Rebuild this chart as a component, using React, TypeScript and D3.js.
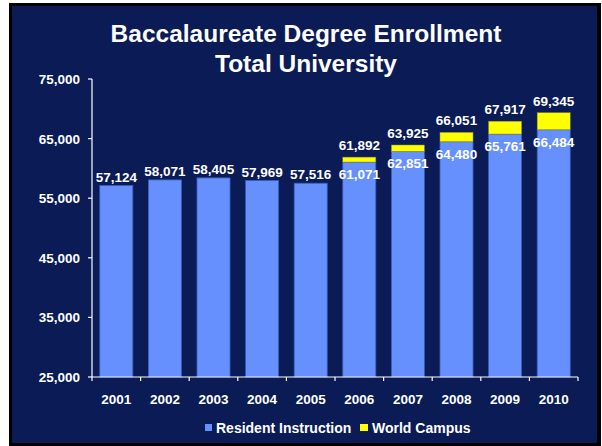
import React from "react";
import * as d3 from "d3";

const years = ["2001", "2002", "2003", "2004", "2005", "2006", "2007", "2008", "2009", "2010"];
const resident = [57124, 58071, 58405, 57969, 57516, 61071, 62851, 64480, 65761, 66484];
const world = [0, 0, 0, 0, 0, 821, 1074, 1571, 2156, 2861];
const totals = [57124, 58071, 58405, 57969, 57516, 61892, 63925, 66051, 67917, 69345];
const yTicks = [25000, 35000, 45000, 55000, 65000, 75000];
const titleLines = ["Baccalaureate Degree Enrollment", "Total University"];
const legendItems = ["Resident Instruction", "World Campus"];

const W = 602;
const H = 446;
const NAVY = "#0a1b56";
const BLUE = "#6690fd";
const YELLOW = "#ffff00";
const FONT = "'Liberation Sans', Arial, sans-serif";

export default function App() {
  const x = d3.scaleBand<string>().domain(years).range([92, 578]).paddingInner(0.32).paddingOuter(0.16);
  const y = d3.scaleLinear().domain([25000, 75000]).range([377, 79]);
  const fmt = d3.format(",");
  const step = x.step();
  const boundaries = d3.range(years.length + 1).map((i) => 92 + i * step);

  return (
    <svg width={W} height={H} style={{ position: "absolute", left: 0, top: 0, display: "block" }} fontFamily={FONT}>
      <rect x={0} y={0} width={W} height={H} fill="#ffffff" />
      <rect x={9} y={3} width={592} height={443} fill="#000000" />
      <rect x={12} y={6} width={585} height={437} fill={NAVY} />

      {titleLines.map((t, i) => (
        <text key={t} x={306} y={42 + i * 30} textAnchor="middle" fill="#fff" fontWeight="bold" fontSize={24.5}>
          {t}
        </text>
      ))}

      {years.map((yr, i) => {
        const bx = x(yr)!;
        const bw = x.bandwidth();
        const rTop = y(resident[i]);
        const tTop = y(resident[i] + world[i]);
        return (
          <g key={yr}>
            <rect x={bx} y={rTop} width={bw} height={y(25000) - rTop} fill={BLUE} stroke="#3a5cb8" strokeWidth={0.8} />
            {world[i] > 0 && (
              <rect x={bx} y={tTop} width={bw} height={rTop - tTop} fill={YELLOW} stroke="#8a8a30" strokeWidth={0.5} />
            )}
            {world[i] > 0 ? (
              <>
                <text x={bx + bw / 2} y={tTop - 7} textAnchor="middle" fill="#fff" fontWeight="bold" fontSize={13.5}>
                  {fmt(totals[i])}
                </text>
                <text x={bx + bw / 2} y={rTop + 17} textAnchor="middle" fill="#fff" fontWeight="bold" fontSize={13.5}>
                  {fmt(resident[i])}
                </text>
              </>
            ) : (
              <text x={bx + bw / 2} y={rTop - 4} textAnchor="middle" fill="#fff" fontWeight="bold" fontSize={13.5}>
                {fmt(totals[i])}
              </text>
            )}
          </g>
        );
      })}

      {/* y axis */}
      <line x1={92} x2={92} y1={79} y2={377} stroke="#fff" strokeWidth={1.2} />
      {yTicks.map((t) => (
        <g key={t}>
          <line x1={88} x2={92} y1={y(t)} y2={y(t)} stroke="#fff" strokeWidth={1.2} />
          <text x={80} y={y(t) + 5} textAnchor="end" fill="#fff" fontWeight="bold" fontSize={13.5}>
            {fmt(t)}
          </text>
        </g>
      ))}

      {/* x axis */}
      <line x1={92} x2={578} y1={377} y2={377} stroke="#fff" strokeWidth={1.2} />
      {boundaries.map((bx, i) => (
        <line key={i} x1={bx} x2={bx} y1={377} y2={381} stroke="#fff" strokeWidth={1.2} />
      ))}
      {years.map((yr) => (
        <text key={yr} x={x(yr)! + x.bandwidth() / 2} y={404} textAnchor="middle" fill="#fff" fontWeight="bold" fontSize={13.5}>
          {yr}
        </text>
      ))}

      {/* legend */}
      <rect x={205} y={424} width={7} height={7} fill={BLUE} />
      <text x={216} y={433} fill="#fff" fontWeight="bold" fontSize={14}>
        {legendItems[0]}
      </text>
      <rect x={360} y={424} width={8} height={7} fill={YELLOW} />
      <text x={372} y={433} fill="#fff" fontWeight="bold" fontSize={14}>
        {legendItems[1]}
      </text>
    </svg>
  );
}
